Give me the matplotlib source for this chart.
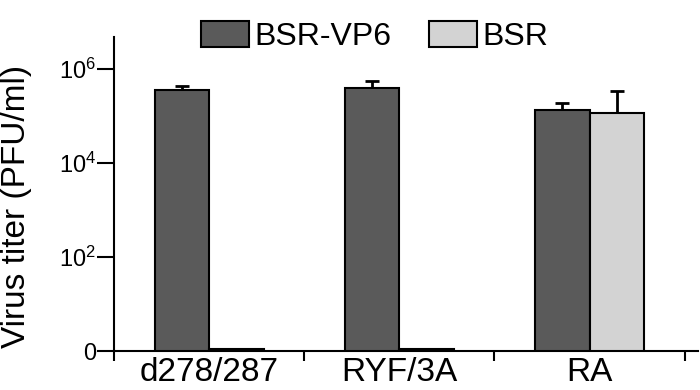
import matplotlib.pyplot as plt
import numpy as np

plt.rcParams['font.family'] = ['Liberation Sans', 'DejaVu Sans']
plt.rcParams['mathtext.fontset'] = 'custom'
plt.rcParams['mathtext.rm'] = 'Liberation Sans'

categories = ['d278/287', 'RYF/3A', 'RA']
vp6 = [3.5e5, 3.9e5, 1.35e5]
vp6_err = [0.9e5, 1.6e5, 0.5e5]
bsr = [1.08, 1.08, 1.15e5]
bsr_err = [0, 0, 2.3e5]

x = np.arange(len(categories))
w = 0.286

fig = plt.figure(figsize=(7, 3.9), dpi=100)
ax = fig.add_axes([0.163, 0.1, 0.834, 0.805])

ax.bar(x - w/2, vp6, w, color='#5a5a5a', edgecolor='black', linewidth=1.5, label='BSR-VP6', zorder=2)
ax.bar(x + w/2, bsr, w, color='#d3d3d3', edgecolor='black', linewidth=1.5, label='BSR', zorder=2)
ax.errorbar(x - w/2, vp6, yerr=[np.zeros(3), vp6_err], fmt='none', ecolor='black',
            elinewidth=2, capsize=5, capthick=2, zorder=1)
ax.errorbar(x[2:] + w/2, bsr[2:], yerr=[[0], bsr_err[2:]], fmt='none', ecolor='black',
            elinewidth=2, capsize=5, capthick=2, zorder=1)

ax.set_yscale('log')
ax.set_ylim(1, 10**6.68)
ax.set_xlim(-0.5, 2.57)
ax.set_yticks([1, 1e2, 1e4, 1e6])
ax.set_yticklabels(['0', r'$\mathregular{10^2}$', r'$\mathregular{10^4}$', r'$\mathregular{10^6}$'])
ax.yaxis.set_minor_locator(plt.NullLocator())
ax.tick_params(axis='y', length=12, width=1.5, labelsize=17, pad=1)

ax.set_xticks(x)
ax.set_xticklabels(categories)
ax.set_xticks([-0.5, 0.5, 1.5, 2.5], minor=True)
ax.tick_params(axis='x', which='major', length=0, labelsize=24, pad=4)
ax.tick_params(axis='x', which='minor', length=7, width=1.5)

ax.spines['top'].set_visible(False)
ax.spines['right'].set_visible(False)
ax.spines['left'].set_linewidth(1.5)
ax.spines['bottom'].set_linewidth(1.5)

ax.set_ylabel('Virus titer (PFU/ml)', fontsize=24)
ax.yaxis.set_label_coords(-0.14, 0.46)

fig.legend(loc='upper center', bbox_to_anchor=(0.535, 1.02), ncol=2, frameon=False,
           fontsize=23, handlelength=1.5, handleheight=0.9, handletextpad=0.15,
           columnspacing=1.2)

fig.savefig('out.png', dpi=100)
